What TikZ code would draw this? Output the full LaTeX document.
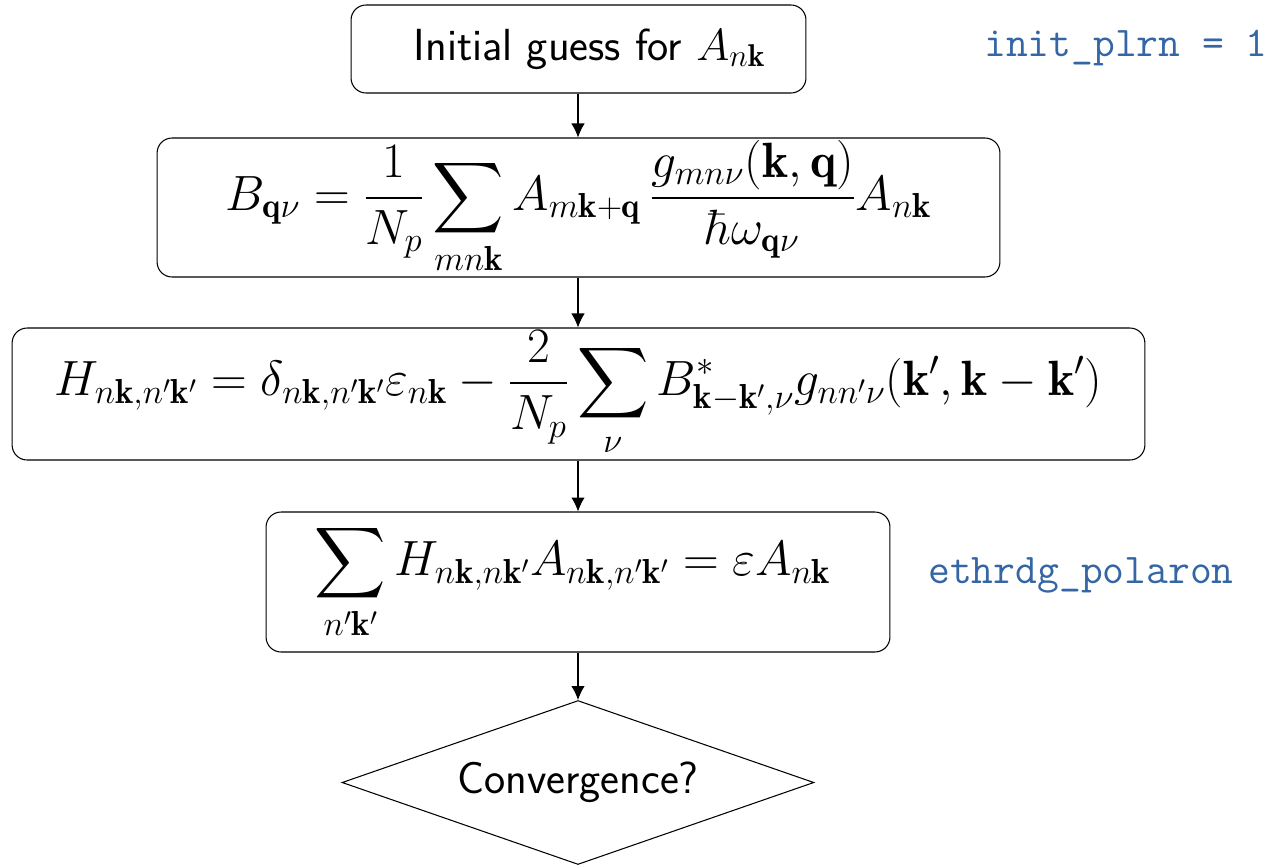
\RequirePackage{fix-cm}
\documentclass[tikz,border=0pt]{standalone}
\usepackage{fontspec}
\DeclareFontFamily{OMX}{cmex}{}
\DeclareFontShape{OMX}{cmex}{m}{n}{<-> cmex10}{}
\usetikzlibrary{shapes.geometric,arrows.meta}
\definecolor{codeblue}{RGB}{52,101,164}
\begin{document}
\begin{tikzpicture}[x=0.02cm,y=-0.02cm,
  stepbox/.style={draw, line width=0.6pt, rounded corners=0.3cm, inner sep=0pt,
    font=\fontsize{28.2}{33}\selectfont\sffamily},
  decision/.style={draw, shape=diamond, line width=0.6pt, inner sep=0pt,
    minimum width=9.44cm, minimum height=3.28cm, shape aspect=2.89,
    font=\fontsize{25.6}{30}\selectfont\sffamily},
  flow/.style={line width=0.6pt, -{Latex[length=0.28cm,width=0.27cm]}},
  codelabel/.style={text=codeblue, font=\fontsize{24.1}{28}\selectfont\ttfamily, inner sep=0pt}
]
\useasboundingbox (0,0) rectangle (1270,866);

\node[stepbox, minimum width=9.1cm, minimum height=1.76cm, font=\fontsize{25.6}{30}\selectfont\sffamily] (init) at (578.5,49)
  {\hspace*{0.44cm}Initial guess for $A_{n\mathbf{k}}$};
\node[stepbox, minimum width=16.86cm, minimum height=2.78cm] (bq) at (578.5,207.5)
  {$\displaystyle B_{\mathbf{q}\nu} = \frac{1}{N_p}\sum_{mn\mathbf{k}} A_{m\mathbf{k}+\mathbf{q}}\,\frac{g_{mn\nu}(\mathbf{k},\mathbf{q})}{\hbar\omega_{\mathbf{q}\nu}}A_{n\mathbf{k}}$};
\node[stepbox, minimum width=22.66cm, minimum height=2.64cm] (ham) at (578.5,394)
  {$\displaystyle H_{n\mathbf{k},n'\mathbf{k}'} = \delta_{n\mathbf{k},n'\mathbf{k}'}\varepsilon_{n\mathbf{k}} - \frac{2}{N_p}\sum_{\nu} B^{*}_{\mathbf{k}-\mathbf{k}',\nu} g_{nn'\nu}(\mathbf{k}',\mathbf{k}-\mathbf{k}')$};
\node[stepbox, minimum width=12.48cm, minimum height=2.8cm] (eig) at (578,582)
  {$\displaystyle \sum_{n'\mathbf{k}'} H_{n\mathbf{k},n\mathbf{k}'}A_{n\mathbf{k},n'\mathbf{k}'} = \varepsilon A_{n\mathbf{k}}$\hspace*{0.2cm}};
\node[decision] (conv) at (578,782.5) {Convergence?};

\node[codelabel] (l1) at (1126,48) {init\_plrn = 1};
\node[codelabel] (l2) at (1081,575) {ethrdg\_polaron};

\draw[flow] (init.south -| 578,0) -- (bq.north -| 578,0);
\draw[flow] (bq.south -| 578,0) -- (ham.north -| 578,0);
\draw[flow] (ham.south -| 578,0) -- (eig.north -| 578,0);
\draw[flow] (eig.south -| 578,0) -- (conv.north);
\end{tikzpicture}
\end{document}
